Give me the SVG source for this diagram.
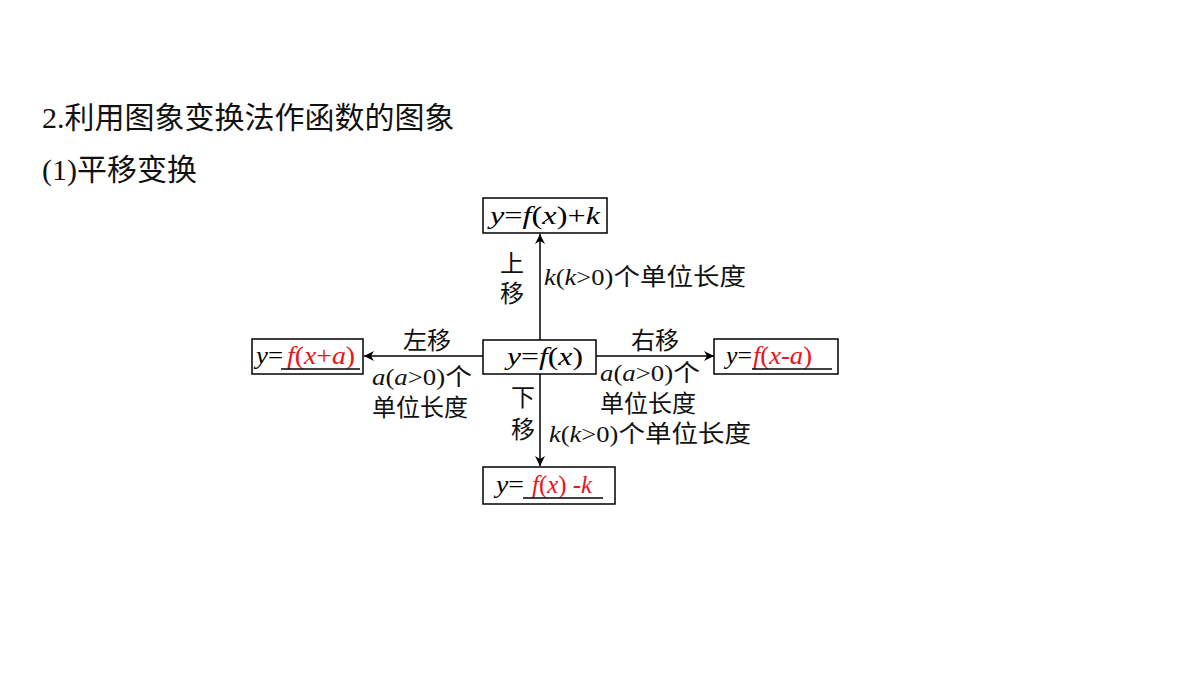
<svg xmlns="http://www.w3.org/2000/svg" width="1200" height="675" viewBox="0 0 1200 675">
<defs>
<marker id="arr" viewBox="0 0 10 10" refX="10" refY="5" markerWidth="10" markerHeight="10" markerUnits="userSpaceOnUse" orient="auto">
<path d="M0,0 L10,5 L0,10 L3,5 Z" fill="#000"/>
</marker>
</defs>
<style>
.h{font-family:"Liberation Serif","Noto Sans CJK SC",serif;font-size:30px;fill:#111}
.box{fill:#fff;stroke:#000;stroke-width:1.5}
.eq{font-family:"Liberation Serif",serif;font-size:26px;fill:#000}
.i{font-style:italic}
.red{fill:#e8141b}
.lb{font-family:"Liberation Serif","Noto Sans CJK SC",serif;font-size:24px;fill:#111}
.ln{stroke:#000;stroke-width:1.5;fill:none}
.ul{stroke:#000;stroke-width:1.5}
</style>
<rect width="1200" height="675" fill="#fff"/>
<text class="h" x="42" y="128">2.利用图象变换法作函数的图象</text>
<text class="h" x="42" y="180">(1)平移变换</text>

<g id="connectors">
<line class="ln" x1="540" y1="340" x2="540" y2="234" marker-end="url(#arr)"/>
<line class="ln" x1="540" y1="374" x2="540" y2="466" marker-end="url(#arr)"/>
<line class="ln" x1="483" y1="356" x2="364" y2="356" marker-end="url(#arr)"/>
<line class="ln" x1="596" y1="356" x2="714" y2="356" marker-end="url(#arr)"/>
<text class="lb" x="512" y="272" text-anchor="middle">上</text>
<text class="lb" x="512" y="302" text-anchor="middle">移</text>
<text class="lb" x="544" y="285" textLength="202" lengthAdjust="spacingAndGlyphs"><tspan class="i">k</tspan>(<tspan class="i">k</tspan>&gt;0)个单位长度</text>
<text class="lb" x="427" y="349" text-anchor="middle">左移</text>
<text class="lb" x="372" y="385" textLength="100" lengthAdjust="spacingAndGlyphs"><tspan class="i">a</tspan>(<tspan class="i">a</tspan>&gt;0)个</text>
<text class="lb" x="372" y="416">单位长度</text>
<text class="lb" x="655" y="349" text-anchor="middle">右移</text>
<text class="lb" x="600" y="381" textLength="100" lengthAdjust="spacingAndGlyphs"><tspan class="i">a</tspan>(<tspan class="i">a</tspan>&gt;0)个</text>
<text class="lb" x="600" y="412">单位长度</text>
<text class="lb" x="523" y="406" text-anchor="middle">下</text>
<text class="lb" x="523" y="438" text-anchor="middle">移</text>
<text class="lb" x="549" y="442" textLength="202" lengthAdjust="spacingAndGlyphs"><tspan class="i">k</tspan>(<tspan class="i">k</tspan>&gt;0)个单位长度</text>
</g>

<g id="node-top">
<rect class="box" x="483" y="198" width="124" height="35"/>
<text class="eq" x="490" y="224" textLength="110" lengthAdjust="spacingAndGlyphs"><tspan class="i">y</tspan>=<tspan class="i">f</tspan>(<tspan class="i">x</tspan>)+<tspan class="i">k</tspan></text>
</g>

<g id="node-center">
<rect class="box" x="483" y="340" width="113" height="34"/>
<text class="eq" x="507" y="365" textLength="76" lengthAdjust="spacingAndGlyphs"><tspan class="i">y</tspan>=<tspan class="i">f</tspan>(<tspan class="i">x</tspan>)</text>
</g>

<g id="node-left">
<rect class="box" x="252" y="339" width="111" height="35"/>
<text class="eq" x="256" y="364" textLength="27" lengthAdjust="spacingAndGlyphs"><tspan class="i">y</tspan>=</text>
<text class="eq red" x="287" y="364" textLength="68" lengthAdjust="spacingAndGlyphs"><tspan class="i">f</tspan>(<tspan class="i">x</tspan>+<tspan class="i">a</tspan>)</text>
<line class="ul" x1="281" y1="369" x2="360" y2="369"/>
</g>

<g id="node-right">
<rect class="box" x="714" y="339" width="124" height="35"/>
<text class="eq" x="726" y="364" textLength="26" lengthAdjust="spacingAndGlyphs"><tspan class="i">y</tspan>=</text>
<text class="eq red" x="753" y="364" textLength="59" lengthAdjust="spacingAndGlyphs"><tspan class="i">f</tspan>(<tspan class="i">x</tspan>-<tspan class="i">a</tspan>)</text>
<line class="ul" x1="752" y1="369" x2="832" y2="369"/>
</g>

<g id="node-bottom">
<rect class="box" x="483" y="467" width="132" height="37"/>
<text class="eq" x="496" y="493" textLength="28" lengthAdjust="spacingAndGlyphs"><tspan class="i">y</tspan>=</text>
<text class="eq red" x="532" y="493" textLength="60" lengthAdjust="spacingAndGlyphs"><tspan class="i">f</tspan>(<tspan class="i">x</tspan>) -<tspan class="i">k</tspan></text>
<line class="ul" x1="523" y1="498" x2="603" y2="498"/>
</g>
</svg>
